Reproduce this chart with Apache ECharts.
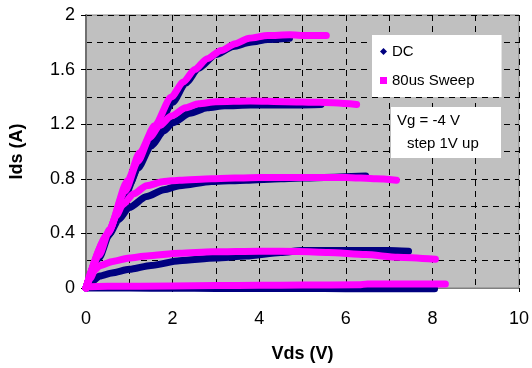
<!DOCTYPE html>
<html>
<head>
<meta charset="utf-8">
<script src="https://cdn.jsdelivr.net/npm/echarts@6/dist/echarts.min.js"></script>
<style>
html,body{margin:0;padding:0;background:#fff;}
#c{width:532px;height:368px;}
</style>
</head>
<body>
<div id="c"></div>
<script>
// ---- Data ----
const xTicks = [0, 2, 4, 6, 8, 10];
const yTicks = [0, 0.4, 0.8, 1.2, 1.6, 2];

// DC measurement (navy), one curve per gate step
const dcVds1 = [0, 0.5, 1.0, 1.3, 1.6, 2.0, 2.3, 2.6, 3.0, 3.4, 3.8, 4.2, 4.7];
const dcIds1 = [0, 0.38, 0.76, 0.96, 1.14, 1.36, 1.50, 1.61, 1.71, 1.77, 1.80, 1.82, 1.83];
const dcVds2 = [0, 0.5, 0.9, 1.2, 1.5, 1.8, 2.0, 2.4, 2.8, 3.2, 3.8, 4.5, 5.43];
const dcIds2 = [0, 0.38, 0.68, 0.88, 1.04, 1.15, 1.21, 1.28, 1.32, 1.335, 1.34, 1.34, 1.345];
const dcVds3 = [0, 0.3, 0.55, 0.75, 1.0, 1.4, 1.8, 2.16, 2.9, 3.7, 4.5, 5.5, 6.46];
const dcIds3 = [0, 0.22, 0.40, 0.50, 0.59, 0.67, 0.72, 0.75, 0.78, 0.79, 0.80, 0.81, 0.82];
const dcVds4 = [0, 0.1, 0.32, 0.6, 1.0, 1.5, 2.16, 3.0, 3.7, 4.5, 5.0, 6.0, 7.0, 7.45];
const dcIds4 = [0, 0.04, 0.087, 0.11, 0.137, 0.165, 0.20, 0.22, 0.235, 0.26, 0.275, 0.275, 0.275, 0.27];
const dcVds5 = [0, 1, 2, 3, 4, 5, 6, 7, 8.05];
const dcIds5 = [0, 0, -0.002, -0.003, -0.004, -0.004, -0.005, -0.005, -0.005];

// 80us pulsed sweep (magenta)
const swVds1 = [0, 0.5, 0.97, 1.24, 1.59, 1.97, 2.25, 2.51, 2.8, 3.12, 3.45, 3.77, 4.2, 4.7, 5.1, 5.55];
const swIds1 = [0, 0.40, 0.79, 0.99, 1.19, 1.40, 1.51, 1.60, 1.68, 1.74, 1.79, 1.83, 1.85, 1.855, 1.85, 1.85];
const swVds2 = [0, 0.5, 0.9, 1.2, 1.47, 1.7, 1.97, 2.3, 2.6, 3.0, 3.8, 4.6, 5.4, 6.25];
const swIds2 = [0, 0.40, 0.71, 0.93, 1.10, 1.19, 1.26, 1.32, 1.35, 1.365, 1.37, 1.365, 1.36, 1.345];
const swVds3 = [0, 0.3, 0.55, 0.7, 0.85, 1.1, 1.4, 1.8, 2.16, 2.9, 4.0, 5.0, 6.0, 6.7, 7.17];
const swIds3 = [0, 0.24, 0.43, 0.53, 0.61, 0.69, 0.75, 0.78, 0.79, 0.80, 0.81, 0.81, 0.81, 0.80, 0.79];
const swVds4 = [0, 0.1, 0.2, 0.32, 0.62, 1.0, 1.4, 2.16, 2.92, 4.0, 4.92, 5.6, 6.46, 7.2, 8.07];
const swIds4 = [0, 0.07, 0.13, 0.165, 0.195, 0.22, 0.235, 0.255, 0.265, 0.27, 0.267, 0.26, 0.245, 0.225, 0.21];
const swVds5 = [0, 0.05, 0.5, 2, 3, 4, 5, 6.3, 6.5, 7.5, 8.3];
const swIds5 = [0, 0.01, 0.012, 0.015, 0.018, 0.02, 0.022, 0.023, 0.03, 0.03, 0.03];

const dcCurves = [[dcVds1, dcIds1], [dcVds2, dcIds2], [dcVds3, dcIds3], [dcVds4, dcIds4], [dcVds5, dcIds5]];
const swCurves = [[swVds1, swIds1], [swVds2, swIds2], [swVds3, swIds3], [swVds4, swIds4], [swVds5, swIds5]];

const DC_NAME = 'DC';
const SW_NAME = '80us Sweep';
const NAVY = '#000080';
const MAGENTA = '#ff00ff';
const FONT = '"Liberation Sans", Arial, sans-serif';

function pairs(xs, ys) { return xs.map((x, i) => [x, ys[i]]); }
function mk(name, color, c) {
  return {
    name: name, type: 'line', data: pairs(c[0], c[1]),
    showSymbol: false, symbol: 'none', smooth: 0.25, smoothMonotone: 'x',
    clip: false, silent: true,
    lineStyle: { color: color, width: 7, cap: 'round', join: 'round' },
    itemStyle: { color: color },
    emphasis: { disabled: true }
  };
}
const series = [];
dcCurves.forEach(c => series.push(mk(DC_NAME, NAVY, c)));
swCurves.forEach(c => series.push(mk(SW_NAME, MAGENTA, c)));

const dash = { color: '#000', width: 1, type: [6, 5] };

const chart = echarts.init(document.getElementById('c'), null, { renderer: 'canvas' });
chart.setOption({
  animation: false,
  textStyle: { fontFamily: FONT },
  grid: { left: 86, right: 12, top: 15, bottom: 76, show: true, backgroundColor: '#c0c0c0', borderColor: '#808080', borderWidth: 1 },
  xAxis: {
    type: 'value', min: xTicks[0], max: xTicks[xTicks.length - 1], interval: 2,
    name: 'Vds (V)', nameLocation: 'middle', nameGap: 57,
    nameTextStyle: { fontSize: 18, fontWeight: 'bold', color: '#000', fontFamily: FONT },
    axisLine: { show: true, lineStyle: { color: '#808080', width: 1 } },
    axisTick: { show: true, length: 4, lineStyle: { color: '#000' } },
    axisLabel: { fontSize: 18, color: '#000', margin: 22, fontFamily: FONT },
    splitLine: { show: true, lineStyle: dash },
    minorTick: { show: false, splitNumber: 2 },
    minorSplitLine: { show: true, lineStyle: dash }
  },
  yAxis: {
    type: 'value', min: yTicks[0], max: yTicks[yTicks.length - 1], interval: 0.4,
    name: 'Ids (A)', nameLocation: 'middle', nameGap: 60,
    nameTextStyle: { fontSize: 18, fontWeight: 'bold', color: '#000', fontFamily: FONT },
    axisLine: { show: true, lineStyle: { color: '#707070', width: 2 } },
    axisTick: { show: true, length: 5, lineStyle: { color: '#000' } },
    axisLabel: { fontSize: 18, color: '#000', margin: 11, fontFamily: FONT,
      formatter: v => String(Math.round(v * 10) / 10) },
    splitLine: { show: true, lineStyle: dash },
    minorTick: { show: false, splitNumber: 2 },
    minorSplitLine: { show: true, lineStyle: dash }
  },
  legend: {
    data: [{ name: DC_NAME, icon: 'diamond' }, { name: SW_NAME, icon: 'rect', itemStyle: { borderWidth: 0 } }],
    orient: 'vertical', left: 372, top: 35, width: 131,
    backgroundColor: '#ffffff', padding: [9, 27, 9, 8], itemGap: 14,
    itemWidth: 7, itemHeight: 7, selectedMode: false,
    textStyle: { fontSize: 15, color: '#000', fontFamily: FONT }
  },
  graphic: [
    { type: 'rect', left: 391, top: 107, shape: { width: 110, height: 51 }, style: { fill: '#ffffff' }, z: 100 },
    { type: 'text', left: 397, top: 113, style: { text: 'Vg = -4 V', font: '15px ' + FONT, fill: '#000' }, z: 101 },
    { type: 'text', left: 407, top: 136, style: { text: 'step 1V up', font: '15px ' + FONT, fill: '#000' }, z: 101 }
  ],
  series: series
});
</script>
</body>
</html>
